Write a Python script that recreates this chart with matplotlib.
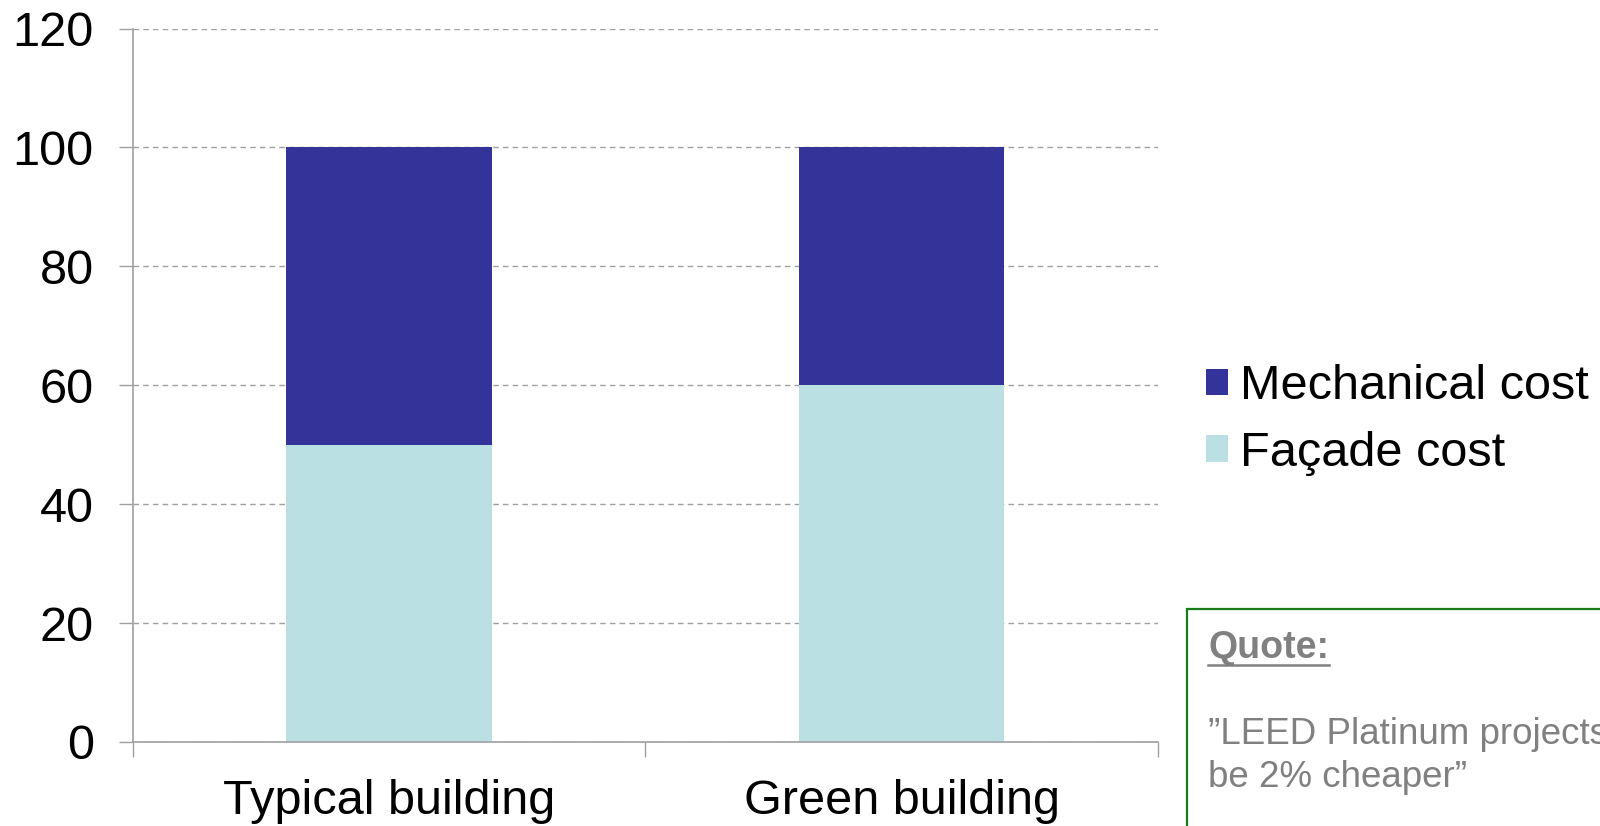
import matplotlib.pyplot as plt
from matplotlib.patches import Rectangle

categories = ['Typical building', 'Green building']
facade_cost = [50, 60]
mechanical_cost = [50, 40]
y_ticks = [0, 20, 40, 60, 80, 100, 120]

plt.rcParams['font.family'] = ['Liberation Sans', 'DejaVu Sans']

fig = plt.figure(figsize=(16, 8.26), dpi=100)
ax = fig.add_axes([0.0829, 0.1017, 0.6409, 0.8637])

x = list(range(len(categories)))
ax.bar(x, facade_cost, width=0.4, color='#bbe0e3', label='Façade cost', zorder=3)
ax.bar(x, mechanical_cost, width=0.4, bottom=facade_cost, color='#333399',
       label='Mechanical cost', zorder=3)

ax.set_xlim(-0.5, 1.5)
ax.set_ylim(0, 120)
ax.set_yticks(y_ticks)
ax.set_xticks([-0.5, 0.5, 1.5])
ax.set_xticklabels([])
ax.set_xticks(x, minor=True)
ax.set_xticklabels(categories, minor=True)

ax.tick_params(axis='y', labelsize=35, length=10, width=1, color='#a0a0a0', pad=18)
ax.tick_params(axis='x', which='major', length=11, width=1, color='#a0a0a0')
ax.tick_params(axis='x', which='minor', length=0, labelsize=35, pad=27)

for side in ['top', 'right']:
    ax.spines[side].set_visible(False)
for side in ['left', 'bottom']:
    ax.spines[side].set_color('#a0a0a0')
    ax.spines[side].set_linewidth(1.2)
ax.spines['bottom'].set_zorder(4)

ax.yaxis.grid(True, linestyle=(0, (4, 3)), color='#a0a0a0', linewidth=1, zorder=0)
ax.set_axisbelow(True)

handles, labels = ax.get_legend_handles_labels()
fig.legend(handles[::-1], labels[::-1], loc='center left', bbox_to_anchor=(0.7535, 0.4915),
           frameon=False, fontsize=35, handlelength=0.46, handleheight=0.46,
           handletextpad=0.25, labelspacing=0.45, borderpad=0, borderaxespad=0)

# quote box
fig.patches.append(Rectangle((1187 / 1600, -0.1), 0.5, (826 - 609) / 826 + 0.1,
                             transform=fig.transFigure, fill=False,
                             edgecolor='#1a7a1a', linewidth=1.6))
quote_title = fig.text(1208 / 1600, (826 - 658) / 826, 'Quote:', fontsize=27,
                       fontweight='bold', color='#808080', ha='left', va='baseline')
fig.text(1208 / 1600, (826 - 787) / 826, '\u201dLEED Platinum projects can\nbe 2% cheaper\u201d',
         fontsize=26.5, color='#808080', ha='left', va='baseline', linespacing=1.3)

fig.canvas.draw()
bb = quote_title.get_window_extent().transformed(fig.transFigure.inverted())
fig.add_artist(plt.Line2D([bb.x0, bb.x1], [(826 - 665) / 826] * 2,
                          color='#808080', linewidth=1.8))

fig.savefig('out.png', dpi=100)
